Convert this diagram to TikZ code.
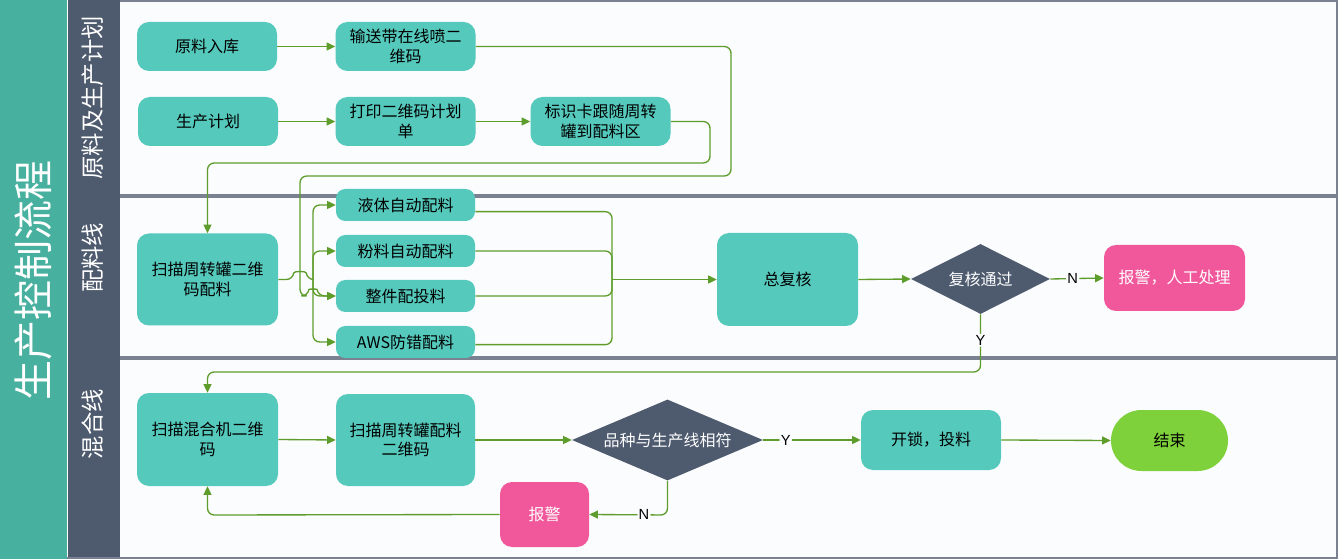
\documentclass[tikz,border=0pt]{standalone}
\usepackage{fontspec}
\setmainfont{Noto Sans CJK SC}
\newfontfamily\latn{Liberation Sans}
\usetikzlibrary{shapes.geometric,arrows.meta}
\definecolor{bgc}{HTML}{FBFCFE}
\definecolor{tealbox}{HTML}{55C9BC}
\definecolor{titlec}{HTML}{47B09F}
\definecolor{lanec}{HTML}{4E5A6D}
\definecolor{pinkc}{HTML}{F0589B}
\definecolor{darkd}{HTML}{4E5A6E}
\definecolor{endc}{HTML}{7FD13B}
\definecolor{lnk}{HTML}{5E9C2C}
\definecolor{sepc}{HTML}{7A8291}
\begin{document}
\begin{tikzpicture}[x=0.75pt,y=-0.75pt,
  txt/.style={font=\fontsize{12}{14.5}\selectfont,align=center,inner sep=0pt},
  box/.style={txt,fill=tealbox,rounded corners=9pt,text=black,minimum width=105pt,minimum height=36.75pt},
  fanbox/.style={txt,fill=tealbox,rounded corners=7pt,text=black,minimum width=104.25pt,minimum height=24pt},
  bigbox/.style={txt,fill=tealbox,rounded corners=9pt,text=black,minimum width=105.75pt,minimum height=69pt},
  alarm/.style={txt,fill=pinkc,rounded corners=9pt,text=white},
  dec/.style={txt,diamond,fill=darkd,text=white},
  link/.style={draw=lnk,line width=1pt,rounded corners=5pt},
  arr/.style={-{Triangle[length=6.5pt,width=6pt]}},
  lab/.style={fill=bgc,inner sep=1pt,font=\latn\fontsize{11}{13}\selectfont,text=black},
  lanelab/.style={rotate=90,text=white,font=\fontsize{17.5}{20}\selectfont}]
\useasboundingbox (0,0) rectangle (1338,559);
\fill[bgc] (0,0) rectangle (1338,559);
\fill[titlec] (0,0) rectangle (67,559);
\fill[lanec] (67,0) rectangle (120,559);
\draw[white,line width=0.6pt] (67,0) -- (67,559);
\draw[sepc,line width=1pt] (120,1) -- (1337,1) -- (1337,558) -- (67,558);
\draw[sepc,line width=2.4pt] (120,196) -- (1338,196);
\draw[sepc,line width=2.4pt] (120,358) -- (1338,358);
\node[rotate=90,text=white,font=\fontsize{30}{32}\selectfont] (title) at (33,280) {生产控制流程};
\node[lanelab] (lane1) at (93,98) {原料及生产计划};
\node[lanelab] (lane2) at (93,258) {配料线};
\node[lanelab] (lane3) at (93,424) {混合线};
% lane 1
\node[box] (raw) at (207,46.5) {原料入库};
\node[box] (conv) at (405.5,46.5) {输送带在线喷二\\维码};
\node[box] (plan) at (208,121.5) {生产计划};
\node[box] (print) at (405.5,121.5) {打印二维码计划\\单};
\node[box] (tag) at (600.5,121.5) {标识卡跟随周转\\罐到配料区};
% lane 2
\node[bigbox] (scan) at (207.5,279.5) {扫描周转罐二维\\码配料};
\node[fanbox] (liq) at (405.5,205) {液体自动配料};
\node[fanbox] (pow) at (405.5,251) {粉料自动配料};
\node[fanbox] (whole) at (405.5,296) {整件配投料};
\node[fanbox] (aws) at (405.5,342) {AWS防错配料};
\node[bigbox,minimum height=69.75pt] (rev) at (787.5,279.5) {总复核};
\node[dec,shape aspect=2,minimum width=104.25pt,minimum height=52.5pt] (pass) at (980.5,279) {复核通过};
\node[alarm,minimum width=105.75pt,minimum height=49.5pt] (alarm1) at (1174.5,278) {报警，人工处理};
% lane 3
\node[bigbox,minimum height=69.75pt] (mix) at (207.5,439.5) {扫描混合机二维\\码};
\node[bigbox,minimum width=104.25pt] (scan2) at (405.5,440) {扫描周转罐配料\\二维码};
\node[dec,shape aspect=2.36,minimum width=143.25pt,minimum height=60.75pt] (match) at (667.5,440) {品种与生产线相符};
\node[box,minimum height=45pt] (open) at (931,440) {开锁，投料};
\node[txt,fill=endc,rounded corners=22.8pt,minimum width=87.75pt,minimum height=45.75pt] (end) at (1169.5,440.5) {结束};
\node[alarm,minimum width=66.75pt,minimum height=48.75pt] (alarm2) at (544.5,514.5) {报警};
% connectors lane 1
\draw[link,arr] (raw.east) -- (conv.west);
\draw[link,arr] (plan.east) -- (print.west);
\draw[link,arr] (print.east) -- (tag.west);
\draw[link,arr] (conv.east) -- (731,46.5) -- (731,176) -- (300,176) -- (300,296) -- (308,296) .. controls (309,289) and (317,289) .. (318,296) -- (whole.west);
\draw[link,arr] (tag.east) -- (710,121.5) -- (710,163) -- (207.5,163) -- (scan.north);
% fan out
\draw[link] (scan.east) -- (293,279.5) .. controls (294,271) and (306,271) .. (307,279.5) -- (313,279.5);
\draw[link,arr] (313,279.5) |- (liq.west);
\draw[link,arr] (313,279.5) |- (pow.west);
\draw[link,arr] (313,279.5) |- (whole.west);
\draw[link,arr] (313,279.5) |- (aws.west);
% fan in
\draw[link] ([yshift=-5pt]liq.east) -| (612,279.5);
\draw[link] (pow.east) -| (612,279.5);
\draw[link] (whole.east) -| (612,279.5);
\draw[link] ([yshift=-2pt]aws.east) -| (612,279.5);
\draw[link,arr] (612,279.5) -- (rev.west);
\draw[link,arr] (rev.east) -- (pass.west);
\draw[link,arr] (pass.east) -- node[lab,pos=0.42]{N} (alarm1.west);
\draw[link,arr] (pass.south) -- node[lab,pos=0.45]{Y} (980.5,372) -- (207.5,372) -- (mix.north);
% lane 3
\draw[link,arr] (mix.east) -- (scan2.west);
\draw[link,arr] (scan2.east) -- (match.west);
\draw[link,arr] (match.east) -- node[lab,pos=0.23]{Y} (open.west);
\draw[link,arr] (open.east) -- (end.west);
\draw[link,arr] (match.south) -- (667.5,515) -- node[lab,pos=0.3]{N} (alarm2.east);
\draw[link,arr] (alarm2.west) -- (207.5,515) -- (mix.south);
\end{tikzpicture}
\end{document}
